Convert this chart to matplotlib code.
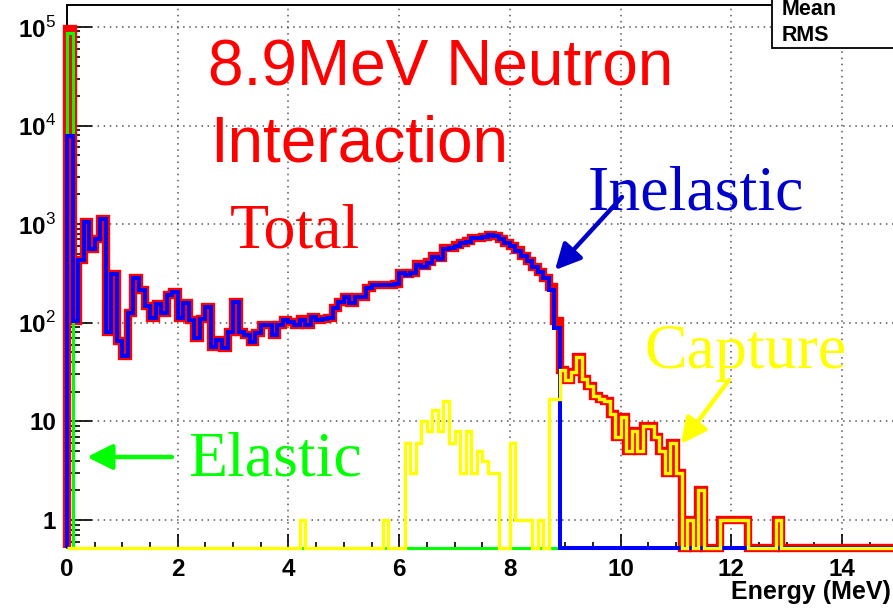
import matplotlib.pyplot as plt
import numpy as np
from matplotlib.patches import Rectangle
from matplotlib.ticker import FixedLocator, MultipleLocator, LogLocator, NullFormatter

plt.rcParams['font.family'] = 'Liberation Sans'
plt.rcParams['mathtext.fontset'] = 'custom'
plt.rcParams['mathtext.rm'] = 'Liberation Sans'
plt.rcParams['mathtext.bf'] = 'Liberation Sans:bold'

# 0.1 MeV bins from 0 to 15 MeV
nbins = 150
edges = np.linspace(0, 15, nbins + 1)

# counts per bin, starting at 0 MeV; bins not listed are empty
elastic_counts = [87000]
inelastic_counts = [
    7900, 105, 430, 1050, 560, 710, 1120, 80, 315, 65,
    46, 125, 285, 215, 148, 112, 155, 125, 190, 205,
    112, 158, 107, 70, 109, 145, 57, 67, 56, 81,
    163, 81, 75, 64, 79, 95, 95, 75, 95, 107,
    102, 95, 107, 95, 114, 107, 110, 112, 141, 163,
    183, 158, 183, 183, 225, 242, 242, 242, 242, 250,
    318, 305, 318, 385, 370, 405, 465, 445, 560, 570,
    600, 645, 660, 720, 720, 740, 780, 760, 700, 650,
    600, 540, 475, 420, 370, 325, 285, 215, 88,
]
capture_counts = [
    0, 0, 0, 0, 0, 0, 0, 0, 0, 0,
    0, 0, 0, 0, 0, 0, 0, 0, 0, 0,
    0, 0, 0, 0, 0, 0, 0, 0, 0, 0,
    0, 0, 0, 0, 0, 0, 0, 0, 0, 0,
    0, 0, 1, 0, 0, 0, 0, 0, 0, 0,
    0, 0, 0, 0, 0, 0, 0, 1, 0, 0,
    0, 6, 3, 6, 10, 8, 13, 8, 16, 6,
    8, 3, 8, 3, 5, 4, 3, 3, 0, 0,
    6, 1, 1, 1, 0, 1, 0, 17, 17, 33,
    26, 32, 45, 27, 23, 18, 17, 16, 12, 7,
    11, 5, 8, 5, 9, 9, 7, 5, 3, 6,
    3, 0, 1, 0, 2, 0, 0, 0, 1, 1,
    1, 1, 1, 0, 0, 0, 0, 0, 1, 0,
]

ytick_vals = [1, 10, 1e2, 1e3, 1e4, 1e5]
ytick_labels = ['1', '10', r'$\mathbf{10}^{2}$', r'$\mathbf{10}^{3}$',
                r'$\mathbf{10}^{4}$', r'$\mathbf{10}^{5}$']


def full(counts):
    a = np.zeros(nbins)
    a[:len(counts)] = counts
    return a


elastic = full(elastic_counts)
inelastic = full(inelastic_counts)
capture = full(capture_counts)
total = elastic + inelastic + capture

ymin, ymax = 0.52, 1.67e5

W, H = 893, 608
fig = plt.figure(figsize=(W / 100, H / 100), dpi=100)
ax = fig.add_axes([67 / W, 60 / H, 830.5 / W, 543 / H])
ax.set_yscale('log')
ax.set_xlim(0, 15)
ax.set_ylim(ymin, ymax)


def hist(vals, color, lw, z):
    v = np.where(vals > 0, vals, ymin)
    ax.stairs(v, edges, baseline=ymin, color=color, lw=lw, fill=False,
              zorder=z, clip_on=False)


hist(total, '#ff0000', 6.0, 3)
hist(elastic, '#00ff00', 2.2, 4)
hist(inelastic, '#0000ff', 2.9, 5)
hist(capture, '#ffff00', 2.4, 6)

ax.grid(True, which='major', color='#555555', ls=(0, (1, 3)), lw=1.1)
ax.set_axisbelow(True)

ax.xaxis.set_major_locator(MultipleLocator(2))
ax.xaxis.set_minor_locator(MultipleLocator(0.5))
ax.yaxis.set_major_locator(FixedLocator(ytick_vals))
ax.set_yticklabels(ytick_labels)
ax.yaxis.set_minor_locator(LogLocator(base=10, subs=np.arange(2, 10)))
ax.yaxis.set_minor_formatter(NullFormatter())

ax.tick_params(axis='both', which='both', direction='in', color='black',
               width=1.2, labelsize=17.5)
ax.tick_params(axis='y', which='major', length=18, pad=8)
ax.tick_params(axis='y', which='minor', length=9.5)
ax.tick_params(axis='x', which='major', length=10, pad=7)
ax.tick_params(axis='x', which='minor', length=4.5)
ax.tick_params(top=False, right=False)
for lab in ax.get_xticklabels() + ax.get_yticklabels():
    lab.set_fontweight('bold')

for s in ax.spines.values():
    s.set_linewidth(1.4)
    s.set_color('black')


def px(x, y):
    return x / W, 1 - y / H


# statistics box in the top right corner
fig.add_artist(Rectangle(px(772, 48), 140 / W, 60 / H, transform=fig.transFigure,
                         facecolor='white', edgecolor='black', lw=1.3, zorder=10))
fig.text(*px(782, 15), 'Mean', fontsize=15.5, fontweight='bold', va='baseline', zorder=11)
fig.text(*px(782, 41), 'RMS', fontsize=15.5, fontweight='bold', va='baseline', zorder=11)

fig.text(*px(891, 599), 'Energy (MeV)', ha='right', va='baseline',
         fontsize=18, fontweight='bold')

# titles and labels on the plot
fig.text(*px(208, 85), '8.9MeV Neutron', color='#ff0000', fontsize=46, va='baseline')
fig.text(*px(210, 161), 'Interaction', color='#ff0000', fontsize=46, va='baseline')
serif = 'Liberation Serif'
fig.text(*px(230, 247), 'Total', color='#ff0000', fontsize=46, family=serif, va='baseline')
fig.text(*px(588, 209), 'Inelastic', color='#0000cc', fontsize=46, family=serif, va='baseline')
fig.text(*px(644, 368), 'Capture', color='#ffff00', fontsize=46, family=serif, va='baseline')
fig.text(*px(188, 475), 'Elastic', color='#00ff00', fontsize=46, family=serif, va='baseline')


def arrow(tail, head, color):
    ax.annotate('', xy=(head[0], H - head[1]), xytext=(tail[0], H - tail[1]),
                xycoords='figure pixels', textcoords='figure pixels',
                arrowprops=dict(arrowstyle='-|>,head_length=0.7,head_width=0.35',
                                color=color, lw=3.2, shrinkA=0, shrinkB=0,
                                mutation_scale=22))


arrow((172, 457), (87, 457), '#00ff00')
arrow((622, 197), (555, 270), '#0000cc')
arrow((729, 380), (681, 444), '#ffff00')

fig.savefig('out.png', dpi=100, facecolor='white')
